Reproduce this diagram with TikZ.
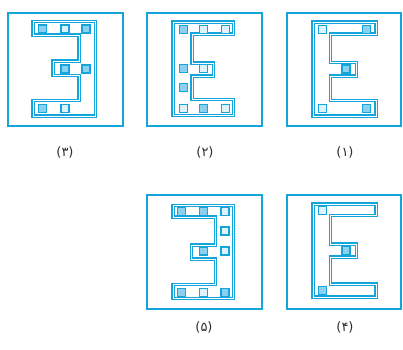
\documentclass[tikz,border=0pt]{standalone}
\usepackage{fontspec}
\newfontfamily\fa[Script=Arabic]{DejaVu Sans}
\definecolor{cy}{RGB}{20,165,218}
\definecolor{lb}{RGB}{140,208,240}
\definecolor{pb}{RGB}{222,242,252}
\definecolor{lab}{RGB}{45,45,45}
\begin{document}
\begin{tikzpicture}[x=1pt,y=-1pt,
  frame/.style={draw=cy,line width=2pt},
  eshape/.style={draw=cy,line width=1.3pt,double=white,double distance=0.6pt,line join=miter},
  sqa/.style={draw=cy,line width=1.4pt,fill=lb,minimum size=8pt,inner sep=0pt},
  sqb/.style={draw=cy,line width=1.4pt,fill=pb,minimum size=8pt,inner sep=0pt},
  lbl/.style={text=lab,font=\fa\fontsize{13}{15}\selectfont,inner sep=1pt}]
\useasboundingbox (0,0) rectangle (403,349);
% frames
\draw[frame] (7.5,12.5) rectangle (123,126);
\draw[frame] (147,12.5) rectangle (262,126);
\draw[frame] (286.5,12.5) rectangle (400.5,126);
\draw[frame] (147,195) rectangle (262,309);
\draw[frame] (286.5,195) rectangle (400.5,309);
% panel 3 (opens left)
\draw[eshape] (33,21.5) -- (95.5,21.5) -- (95.5,116) -- (33,116) -- (33,100.5) -- (79,100.5) -- (79,75.5) -- (53,75.5) -- (53,61) -- (79,61) -- (79,35) -- (33,35) -- cycle;
\node[sqa] (s31) at (42.7,29) {};
\node[sqb] (s32) at (65,29) {};
\node[sqa] (s33) at (86,29) {};
\node[sqa] (s34) at (65,69) {};
\node[sqa] (s35) at (86,69) {};
\node[sqa] (s36) at (42.7,108.3) {};
\node[sqb] (s37) at (65,108.3) {};
% panel 2 (opens right)
\draw[eshape] (173,22) -- (233.5,22) -- (233.5,34) -- (192,34) -- (192,63) -- (213.5,63) -- (213.5,76) -- (192,76) -- (192,99.5) -- (233.5,99.5) -- (233.5,115.5) -- (173,115.5) -- cycle;
\node[sqa] (s21) at (183.3,29.3) {};
\node[sqb] (s22) at (203.3,29.3) {};
\node[sqb] (s23) at (225.2,29.3) {};
\node[sqa] (s24) at (183.3,68.7) {};
\node[sqb] (s25) at (203.3,68.7) {};
\node[sqa] (s26) at (183.3,87.3) {};
\node[sqb] (s27) at (183.3,108.3) {};
\node[sqa] (s28) at (203.3,108.3) {};
\node[sqb] (s29) at (225.2,108.3) {};
% panel 1 (opens right)
\draw[eshape] (313,22) -- (376,22) -- (376,34) -- (330.5,34) -- (330.5,62.5) -- (356.5,62.5) -- (356.5,76) -- (330.5,76) -- (330.5,100.5) -- (376,100.5) -- (376,116) -- (313,116) -- cycle;
\node[sqb] (s11) at (322.7,29.3) {};
\node[sqa] (s12) at (366.7,29.3) {};
\node[sqa] (s13) at (346,69) {};
\node[sqb] (s14) at (322.7,108.3) {};
\node[sqa] (s15) at (366.7,108.3) {};
% panel 5 (opens left)
\draw[eshape] (173,205.5) -- (233.5,205.5) -- (233.5,298.5) -- (173,298.5) -- (173,284.5) -- (215.5,284.5) -- (215.5,259) -- (191.5,259) -- (191.5,245) -- (215.5,245) -- (215.5,217) -- (173,217) -- cycle;
\node[sqa] (s51) at (181.7,211.7) {};
\node[sqa] (s52) at (203.3,211.7) {};
\node[sqb] (s53) at (225,211.7) {};
\node[sqb] (s54) at (225,231) {};
\node[sqa] (s55) at (203.3,251) {};
\node[sqb] (s56) at (225,251) {};
\node[sqa] (s57) at (181.7,292.3) {};
\node[sqb] (s58) at (203.3,292.3) {};
\node[sqa] (s59) at (225,292.3) {};
% panel 4 (opens right)
\draw[eshape] (313,204) -- (376,204) -- (376,215.5) -- (330.5,215.5) -- (330.5,244) -- (356.5,244) -- (356.5,257) -- (330.5,257) -- (330.5,284) -- (376,284) -- (376,297) -- (313,297) -- cycle;
\node[sqb] (s41) at (322.7,210.7) {};
\node[sqa] (s42) at (346,250.7) {};
\node[sqa] (s43) at (322.7,290.7) {};
% labels
\node[lbl] (l3) at (65,152) {(۳)};
\node[lbl] (l2) at (205,152) {(۲)};
\node[lbl] (l1) at (345,152) {(۱)};
\node[lbl] (l5) at (204,327) {(۵)};
\node[lbl] (l4) at (345,327) {(۴)};
\end{tikzpicture}
\end{document}
